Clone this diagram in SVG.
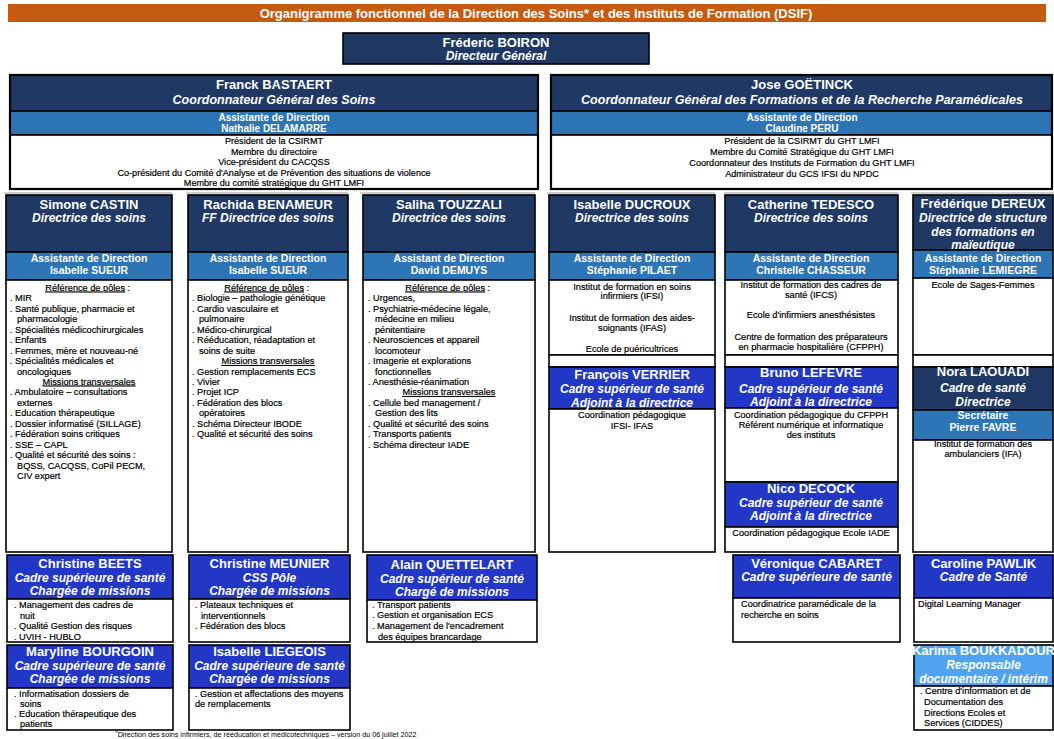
<svg xmlns="http://www.w3.org/2000/svg" width="1054" height="739" viewBox="0 0 1054 739">
<style>
text{font-family:"Liberation Sans",Arial,sans-serif}
.nv{fill:#1F3864;stroke:#000;stroke-width:1.6}
.bd{fill:#2E75B6;stroke:#000;stroke-width:1.6}
.ry{fill:#2237C5;stroke:#000;stroke-width:1.6}
.lt{fill:#4FA3F0;stroke:#000;stroke-width:1.6}
.wh{fill:#fff;stroke:#000;stroke-width:1.6}
.sh{stroke:#cfcfcf;stroke-width:2}
.ttl{font-size:13px;font-weight:bold;fill:#fff;text-anchor:middle}
.n{font-size:13px;font-weight:bold;fill:#fff;text-anchor:middle}
.r{font-size:12px;font-weight:bold;font-style:italic;fill:#fff;text-anchor:middle}
.rt{font-size:12.5px;font-weight:bold;font-style:italic;fill:#fff;text-anchor:middle}
.a{font-size:10.5px;font-weight:bold;fill:#fff;text-anchor:middle}
.at{font-size:10px;font-weight:bold;fill:#fff;text-anchor:middle}
.s{font-size:9.2px;fill:#000;stroke:#000;stroke-width:0.2}
.st{font-size:9.1px;fill:#000;stroke:#000;stroke-width:0.2;text-anchor:middle}
.c{text-anchor:middle}
.u{text-decoration:underline}
.f{font-size:7.2px;fill:#000;text-anchor:middle}
</style>

<g id="title">
<rect x="8" y="4" width="1038" height="18" fill="#C55A11"/>
<text class="ttl" x="536" y="18">Organigramme fonctionnel de la Direction des Soins* et des Instituts de Formation (DSIF)</text>
</g>

<g id="connectors"></g>

<g id="boiron">
<rect class="nv" x="343" y="33" width="306" height="31" stroke-width="2"/>
<text class="n" x="496" y="47">Fréderic BOIRON</text>
<text class="r" x="496" y="60">Directeur Général</text>
</g>

<g id="bastaert">
<rect class="nv" x="10" y="75" width="528" height="36"/>
<rect class="bd" x="10" y="111" width="528" height="24"/>
<rect class="wh" x="10" y="135" width="528" height="54"/>
<rect x="10" y="75" width="528" height="114" fill="none" stroke="#000" stroke-width="2.2"/>
<text class="n" x="274" y="89">Franck BASTAERT</text>
<text class="rt" x="274" y="104">Coordonnateur Général des Soins</text>
<text class="at" x="274" y="121">Assistante de Direction</text>
<text class="at" x="274" y="132">Nathalie DELAMARRE</text>
<text class="st" x="274" y="144">Président de la CSIRMT</text>
<text class="st" x="274" y="154.5">Membre du directoire</text>
<text class="st" x="274" y="165">Vice-président du CACQSS</text>
<text class="st" x="274" y="175.5">Co-président du Comité d'Analyse et de Prévention des situations de violence</text>
<text class="st" x="274" y="186">Membre du comité stratégique du GHT LMFI</text>
</g>

<g id="goetinck">
<rect class="nv" x="551" y="75" width="501" height="36"/>
<rect class="bd" x="551" y="111" width="501" height="24"/>
<rect class="wh" x="551" y="135" width="501" height="54"/>
<rect x="551" y="75" width="501" height="114" fill="none" stroke="#000" stroke-width="2.2"/>
<text class="n" x="802" y="89">Jose GOËTINCK</text>
<text class="rt" x="802" y="104">Coordonnateur Général des Formations et de la Recherche Paramédicales</text>
<text class="at" x="802" y="121">Assistante de Direction</text>
<text class="at" x="802" y="132">Claudine PERU</text>
<text class="st" x="802" y="144">Président de la CSIRMT du GHT LMFI</text>
<text class="st" x="802" y="155">Membre du Comité Stratégique du GHT LMFI</text>
<text class="st" x="802" y="166">Coordonnateur des Instituts de Formation du GHT LMFI</text>
<text class="st" x="802" y="177">Administrateur du GCS IFSI du NPDC</text>
</g>

<g id="shadows">
<line class="sh" x1="4" y1="193" x2="172" y2="193"/>
<line class="sh" x1="186" y1="193" x2="348" y2="193"/>
<line class="sh" x1="360" y1="193" x2="535" y2="193"/>
<line class="sh" x1="547" y1="193" x2="715" y2="193"/>
<line class="sh" x1="724" y1="193" x2="898" y2="193"/>
<line class="sh" x1="911" y1="193" x2="1054" y2="193"/>
</g>

<g id="castin">
<rect class="nv" x="6" y="195" width="166" height="57"/>
<rect class="bd" x="6" y="252" width="166" height="28"/>
<rect class="wh" x="6" y="280" width="166" height="272"/>
<text class="n" x="89" y="209">Simone CASTIN</text>
<text class="r" x="89" y="222">Directrice des soins</text>
<text class="a" x="89" y="262">Assistante de Direction</text>
<text class="a" x="89" y="274">Isabelle SUEUR</text>
<text class="s">
<tspan x="89" y="290.5" class="c"><tspan class="u">Référence de pôles</tspan> :</tspan>
<tspan x="10" y="301">. MIR</tspan>
<tspan x="10" y="311.5">. Santé publique, pharmacie et</tspan>
<tspan x="17" y="322">pharmacologie</tspan>
<tspan x="10" y="332.5">. Spécialités médicochirurgicales</tspan>
<tspan x="10" y="343">. Enfants</tspan>
<tspan x="10" y="353.5">. Femmes, mère et nouveau-né</tspan>
<tspan x="10" y="364">. Spécialités médicales et</tspan>
<tspan x="17" y="374.5">oncologiques</tspan>
</text>
<text class="s c u" x="89" y="384.5">Missions transversales</text>
<text class="s">
<tspan x="10" y="395">. Ambulatoire – consultations</tspan>
<tspan x="17" y="405.5">externes</tspan>
<tspan x="10" y="416">. Education thérapeutique</tspan>
<tspan x="10" y="426.5">. Dossier informatisé (SILLAGE)</tspan>
<tspan x="10" y="437">. Fédération soins critiques</tspan>
<tspan x="10" y="447.5">. SSE – CAPL</tspan>
<tspan x="10" y="458">. Qualité et sécurité des soins :</tspan>
<tspan x="17" y="468.5">BQSS, CACQSS, CoPil PECM,</tspan>
<tspan x="17" y="479">CIV expert</tspan>
</text>
</g>

<g id="benameur">
<rect class="nv" x="188" y="195" width="160" height="57"/>
<rect class="bd" x="188" y="252" width="160" height="28"/>
<rect class="wh" x="188" y="280" width="160" height="272"/>
<text class="n" x="268" y="209">Rachida BENAMEUR</text>
<text class="r" x="268" y="222">FF Directrice des soins</text>
<text class="a" x="268" y="262">Assistante de Direction</text>
<text class="a" x="268" y="274">Isabelle SUEUR</text>
<text class="s">
<tspan x="268" y="290.5" class="c"><tspan class="u">Référence de pôles</tspan> :</tspan>
<tspan x="192" y="301">. Biologie – pathologie génétique</tspan>
<tspan x="192" y="311.5">. Cardio vasculaire et</tspan>
<tspan x="199" y="322">pulmonaire</tspan>
<tspan x="192" y="332.5">. Médico-chirurgical</tspan>
<tspan x="192" y="343">. Rééducation, réadaptation et</tspan>
<tspan x="199" y="353.5">soins de suite</tspan>
</text>
<text class="s c u" x="268" y="364">Missions transversales</text>
<text class="s">
<tspan x="192" y="374.5">. Gestion remplacements ECS</tspan>
<tspan x="192" y="385">. Vivier</tspan>
<tspan x="192" y="395">. Projet ICP</tspan>
<tspan x="192" y="405.5">. Fédération des blocs</tspan>
<tspan x="199" y="416">opératoires</tspan>
<tspan x="192" y="426.5">. Schéma Directeur IBODE</tspan>
<tspan x="192" y="437">. Qualité et sécurité des soins</tspan>
</text>
</g>

<g id="touzzali">
<rect class="nv" x="363" y="195" width="172" height="57"/>
<rect class="bd" x="363" y="252" width="172" height="28"/>
<rect class="wh" x="363" y="280" width="172" height="272"/>
<text class="n" x="449" y="209">Saliha TOUZZALI</text>
<text class="r" x="449" y="222">Directrice des soins</text>
<text class="a" x="449" y="262">Assistant de Direction</text>
<text class="a" x="449" y="274">David DEMUYS</text>
<text class="s">
<tspan x="449" y="290.5" class="c"><tspan class="u">Référence de pôles</tspan> :</tspan>
<tspan x="368" y="301">. Urgences,</tspan>
<tspan x="368" y="311.5">. Psychiatrie-médecine légale,</tspan>
<tspan x="375" y="322">médecine en milieu</tspan>
<tspan x="375" y="332.5">pénitentiaire</tspan>
<tspan x="368" y="343">. Neurosciences et appareil</tspan>
<tspan x="375" y="353.5">locomoteur</tspan>
<tspan x="368" y="364">. Imagerie et explorations</tspan>
<tspan x="375" y="374.5">fonctionnelles</tspan>
<tspan x="368" y="385">. Anesthésie-réanimation</tspan>
</text>
<text class="s c u" x="449" y="395">Missions transversales</text>
<text class="s">
<tspan x="368" y="405.5">. Cellule bed management /</tspan>
<tspan x="375" y="416">Gestion des lits</tspan>
<tspan x="368" y="426.5">. Qualité et sécurité des soins</tspan>
<tspan x="368" y="437">. Transports patients</tspan>
<tspan x="368" y="447.5">. Schéma directeur IADE</tspan>
</text>
</g>

<g id="ducroux">
<rect class="nv" x="549" y="195" width="166" height="57"/>
<rect class="bd" x="549" y="252" width="166" height="28"/>
<rect class="wh" x="549" y="280" width="166" height="75"/>
<rect class="wh" x="549" y="355" width="166" height="12"/>
<text class="n" x="632" y="209">Isabelle DUCROUX</text>
<text class="r" x="632" y="222">Directrice des soins</text>
<text class="a" x="632" y="262">Assistante de Direction</text>
<text class="a" x="632" y="274">Stéphanie PILAET</text>
<text class="s c" x="632" y="289.5">Institut de formation en soins</text>
<text class="s c" x="632" y="299">infirmiers (IFSI)</text>
<text class="s c" x="632" y="321">Institut de formation des aides-</text>
<text class="s c" x="632" y="331">soignants (IFAS)</text>
<text class="s c" x="632" y="352">Ecole de puéricultrices</text>
</g>

<g id="verrier">
<rect class="ry" x="549" y="367" width="166" height="42"/>
<rect class="wh" x="549" y="409" width="166" height="143"/>
<text class="n" x="632" y="379">François VERRIER</text>
<text class="r" x="632" y="393">Cadre supérieur de santé</text>
<text class="r" x="632" y="407">Adjoint à la directrice</text>
<text class="s c" x="632" y="418">Coordination pédagogique</text>
<text class="s c" x="632" y="429">IFSI- IFAS</text>
</g>

<g id="tedesco">
<rect class="nv" x="725" y="195" width="173" height="57"/>
<rect class="bd" x="725" y="252" width="173" height="28"/>
<rect class="wh" x="725" y="280" width="173" height="75"/>
<rect class="wh" x="725" y="355" width="173" height="12"/>
<text class="n" x="811" y="209">Catherine TEDESCO</text>
<text class="r" x="811" y="222">Directrice des soins</text>
<text class="a" x="811" y="262">Assistante de Direction</text>
<text class="a" x="811" y="274">Christelle CHASSEUR</text>
<text class="s c" x="811" y="288">Institut de formation des cadres de</text>
<text class="s c" x="811" y="298">santé (IFCS)</text>
<text class="s c" x="811" y="318">Ecole d'infirmiers anesthésistes</text>
<text class="s c" x="811" y="339.5">Centre de formation des préparateurs</text>
<text class="s c" x="811" y="349.5">en pharmacie hospitalière (CFPPH)</text>
</g>

<g id="lefevre">
<rect class="ry" x="725" y="367" width="173" height="41"/>
<rect class="wh" x="725" y="408" width="173" height="74"/>
<text class="n" x="811" y="377">Bruno LEFEVRE</text>
<text class="r" x="811" y="392.5">Cadre supérieur de santé</text>
<text class="r" x="811" y="406">Adjoint à la directrice</text>
<text class="s c" x="811" y="418">Coordination pédagogique du CFPPH</text>
<text class="s c" x="811" y="428">Référent numérique et informatique</text>
<text class="s c" x="811" y="438">des instituts</text>
</g>

<g id="decock">
<rect class="ry" x="725" y="482" width="173" height="45"/>
<rect class="wh" x="725" y="527" width="173" height="25"/>
<text class="n" x="811" y="493">Nico DECOCK</text>
<text class="r" x="811" y="507">Cadre supérieur de santé</text>
<text class="r" x="811" y="520">Adjoint à la directrice</text>
<text class="s c" x="811" y="536">Coordination pédagogique Ecole IADE</text>
</g>

<g id="dereux">
<rect class="nv" x="913" y="195" width="140" height="55"/>
<rect class="bd" x="913" y="250" width="140" height="28"/>
<rect class="wh" x="913" y="278" width="140" height="77"/>
<rect class="wh" x="913" y="355" width="140" height="12"/>
<text class="n" x="983" y="208">Frédérique DEREUX</text>
<text class="r" x="983" y="222">Directrice de structure</text>
<text class="r" x="983" y="236">des formations en</text>
<text class="r" x="983" y="249">maïeutique</text>
<text class="a" x="983" y="262">Assistante de Direction</text>
<text class="a" x="983" y="274">Stéphanie LEMIEGRE</text>
<text class="s c" x="983" y="288">Ecole de Sages-Femmes</text>
</g>

<g id="laouadi">
<rect class="nv" x="913" y="367" width="140" height="43"/>
<rect class="bd" x="913" y="410" width="140" height="30"/>
<rect class="wh" x="913" y="440" width="140" height="112"/>
<text class="n" x="983" y="376">Nora LAOUADI</text>
<text class="r" x="983" y="392">Cadre de santé</text>
<text class="r" x="983" y="406">Directrice</text>
<text class="a" x="983" y="418.5">Secrétaire</text>
<text class="a" x="983" y="430.5">Pierre FAVRE</text>
<text class="s c" x="983" y="446.5">Institut de formation des</text>
<text class="s c" x="983" y="456.5">ambulanciers (IFA)</text>
</g>

<g id="beets">
<rect class="ry" x="7" y="555" width="166" height="44"/>
<rect class="wh" x="7" y="599" width="166" height="43"/>
<text class="n" x="90" y="568">Christine BEETS</text>
<text class="r" x="90" y="581.5">Cadre supérieure de santé</text>
<text class="r" x="90" y="595">Chargée de missions</text>
<text class="s">
<tspan x="14" y="608">. Management des cadres de</tspan>
<tspan x="20" y="618.5">nuit</tspan>
<tspan x="14" y="629">. Qualité Gestion des risques</tspan>
<tspan x="14" y="639.5">. UVIH - HUBLO</tspan>
</text>
</g>

<g id="meunier">
<rect class="ry" x="189" y="555" width="161" height="44"/>
<rect class="wh" x="189" y="599" width="161" height="43"/>
<text class="n" x="269.5" y="568">Christine MEUNIER</text>
<text class="r" x="269.5" y="581.5">CSS Pôle</text>
<text class="r" x="269.5" y="595">Chargée de missions</text>
<text class="s">
<tspan x="195" y="608">. Plateaux techniques et</tspan>
<tspan x="201" y="618.5">interventionnels</tspan>
<tspan x="195" y="629">. Fédération des blocs</tspan>
</text>
</g>

<g id="quettelart">
<rect class="ry" x="367" y="555" width="170" height="45"/>
<rect class="wh" x="367" y="600" width="170" height="42"/>
<text class="n" x="452" y="569">Alain QUETTELART</text>
<text class="r" x="452" y="582.5">Cadre supérieur de santé</text>
<text class="r" x="452" y="596">Chargé de missions</text>
<text class="s">
<tspan x="372" y="608">. Transport patients</tspan>
<tspan x="372" y="618">. Gestion et organisation ECS</tspan>
<tspan x="372" y="629">. Management de l'encadrement</tspan>
<tspan x="378" y="639.5">des équipes brancardage</tspan>
</text>
</g>

<g id="cabaret">
<rect class="ry" x="733" y="555" width="167" height="43"/>
<rect class="wh" x="733" y="598" width="167" height="44"/>
<text class="n" x="816.5" y="567.5">Véronique CABARET</text>
<text class="r" x="816.5" y="581">Cadre supérieure de santé</text>
<text class="s">
<tspan x="741" y="606.5">Coordinatrice paramédicale de la</tspan>
<tspan x="741" y="618">recherche en soins</tspan>
</text>
</g>

<g id="pawlik">
<rect class="ry" x="914" y="555" width="139" height="43"/>
<rect class="wh" x="914" y="598" width="139" height="44"/>
<text class="n" x="983.5" y="567.5">Caroline PAWLIK</text>
<text class="r" x="983.5" y="581">Cadre de Santé</text>
<text class="s" x="918" y="606.5">Digital Learning Manager</text>
</g>

<g id="bourgoin">
<rect class="ry" x="7" y="645" width="166" height="43"/>
<rect class="wh" x="7" y="688" width="166" height="42"/>
<text class="n" x="90" y="656">Maryline  BOURGOIN</text>
<text class="r" x="90" y="669.5">Cadre supérieure de santé</text>
<text class="r" x="90" y="683">Chargée de missions</text>
<text class="s">
<tspan x="14" y="696.5">. Informatisation dossiers de</tspan>
<tspan x="20" y="706.5">soins</tspan>
<tspan x="14" y="717">. Education thérapeutique des</tspan>
<tspan x="20" y="727">patients</tspan>
</text>
</g>

<g id="liegeois">
<rect class="ry" x="189" y="645" width="161" height="43"/>
<rect class="wh" x="189" y="688" width="161" height="42"/>
<text class="n" x="269.5" y="656">Isabelle LIEGEOIS</text>
<text class="r" x="269.5" y="669.5">Cadre supérieure de santé</text>
<text class="r" x="269.5" y="683">Chargée de missions</text>
<text class="s">
<tspan x="195" y="696.5">. Gestion et affectations des moyens</tspan>
<tspan x="195" y="706.5">de remplacements</tspan>
</text>
</g>

<g id="boukkadour">
<rect class="lt" x="914" y="645" width="139" height="41"/>
<rect class="wh" x="914" y="686" width="139" height="44"/>
<text class="n" x="983.5" y="655">Karima BOUKKADOUR</text>
<text class="r" x="983.5" y="669">Responsable</text>
<text class="r" x="983.5" y="682.5">documentaire / intérim</text>
<text class="s">
<tspan x="920" y="693.5">. Centre d'information et de</tspan>
<tspan x="924" y="704.5">Documentation des</tspan>
<tspan x="924" y="715.5">Directions Ecoles et</tspan>
<tspan x="924" y="726">Services (CIDDES)</tspan>
</text>
</g>

<g id="footer">
<text class="f" x="266" y="737"><tspan font-size="5.5" dy="-2">*</tspan><tspan dy="2">Direction des soins infirmiers, de rééducation et médicotechniques – version du 06 juillet 2022</tspan></text>
</g>
</svg>
